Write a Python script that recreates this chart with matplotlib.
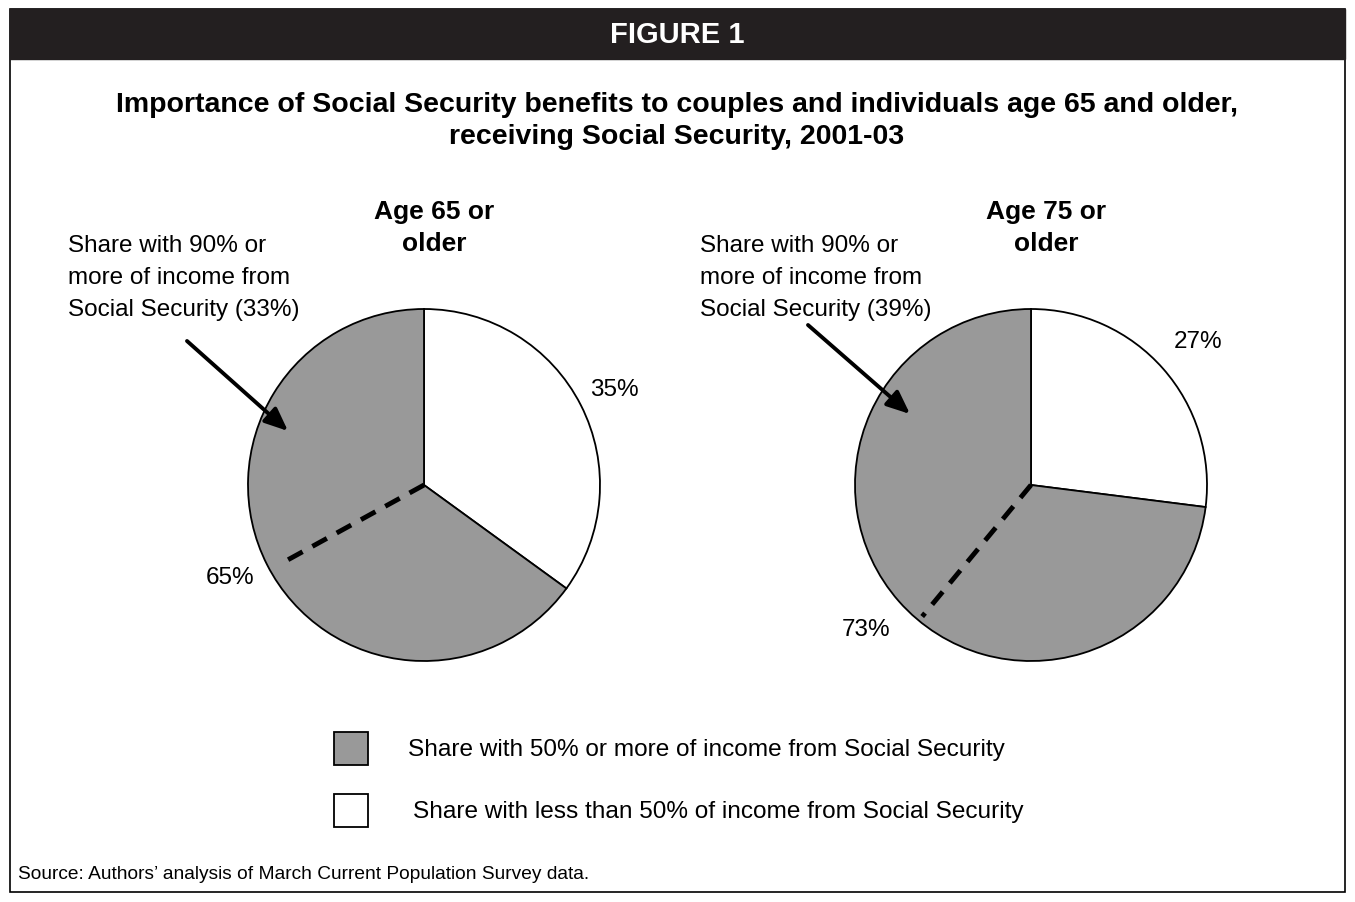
import numpy as np
import matplotlib
matplotlib.use("Agg")
import matplotlib.pyplot as plt
from matplotlib.patches import Rectangle

plt.rcParams['font.family'] = ['Liberation Sans', 'DejaVu Sans']

# data
groups = ['Age 65 or\nolder', 'Age 75 or\nolder']
share_50_plus = [65, 73]      # gray slice
share_under_50 = [35, 27]     # white slice
share_90_plus = [33, 39]      # marked by dashed line
legend_labels = ['Share with 50% or more of income from Social Security',
                 'Share with less than 50% of income from Social Security']

GRAY = '#999999'
W, H = 1355, 903

fig = plt.figure(figsize=(13.55, 9.03), dpi=100)
ax = fig.add_axes([0, 0, 1, 1])

def Y(y):
    # convert pixel row (from top) to axes y
    return H - y

centers = [(424, Y(486)), (1031, Y(486))]
radius = 176
callout_x = [68, 700]
arrows = [((187, 342), (288, 432)), ((808, 326), (910, 415))]
big_lbl = [(230, 578), (866, 630)]
small_lbl = [(614, 390), (1198, 342)]
head_x = [434, 1046]
dash_len = [0.93, 0.97]

for i in range(2):
    cx, cy = centers[i]
    ax.pie([share_under_50[i], share_50_plus[i]], colors=['white', GRAY],
           startangle=90, counterclock=False, center=(cx, cy), radius=radius,
           wedgeprops=dict(edgecolor='black', linewidth=1.3))
    # dashed line marking the 90%+ share (counterclockwise from top)
    ang = np.deg2rad(90 + share_90_plus[i] * 3.6)
    r = radius * dash_len[i]
    ax.plot([cx, cx + r * np.cos(ang)], [cy, cy + r * np.sin(ang)],
            ls=(0, (3.4, 2.3)), color='black', lw=3.5, solid_capstyle='butt')
    ax.text(head_x[i], Y(228), groups[i], ha='center', va='center',
            fontsize=19, fontweight='bold', linespacing=1.46)
    ax.text(callout_x[i], Y(278),
            f'Share with 90% or\nmore of income from\nSocial Security ({share_90_plus[i]}%)',
            ha='left', va='center', fontsize=17.5, linespacing=1.58)
    (x0, y0), (x1, y1) = arrows[i]
    ax.annotate('', xy=(x1, Y(y1)), xytext=(x0, Y(y0)),
                arrowprops=dict(arrowstyle='-|>,head_length=1.4,head_width=0.6',
                                color='black', lw=2.8, shrinkA=0, shrinkB=0))
    ax.text(big_lbl[i][0], Y(big_lbl[i][1]), f'{share_50_plus[i]}%',
            ha='center', va='center', fontsize=17.5)
    ax.text(small_lbl[i][0], Y(small_lbl[i][1]), f'{share_under_50[i]}%',
            ha='center', va='center', fontsize=17.5)

# legend boxes
for j, (c, yy, tx) in enumerate([(GRAY, 750, 408), ('white', 812, 413)]):
    ax.add_patch(Rectangle((334, Y(yy) - 16), 34, 33, facecolor=c,
                           edgecolor='black', lw=1.3))
    ax.text(tx, Y(yy), legend_labels[j], ha='left', va='center', fontsize=17.6)

# frame and header band
ax.add_patch(Rectangle((10, Y(893)), 1335, 883, facecolor='none',
                       edgecolor='black', lw=1.2))
ax.add_patch(Rectangle((10, Y(60)), 1335, 50, facecolor='#231f20',
                       edgecolor='#231f20'))
ax.text(677, Y(35), 'FIGURE 1', color='white', ha='center', va='center',
        fontsize=21, fontweight='bold')
ax.text(677, Y(121),
        'Importance of Social Security benefits to couples and individuals age 65 and older,\n'
        'receiving Social Security, 2001-03',
        ha='center', va='center', fontsize=20.5, fontweight='bold', linespacing=1.28)
ax.text(18, Y(875), 'Source: Authors\u2019 analysis of March Current Population Survey data.',
        ha='left', va='center', fontsize=13.8)

ax.set_xlim(0, W)
ax.set_ylim(0, H)
ax.set_aspect('auto')
ax.axis('off')

fig.savefig('out.png', dpi=100)
